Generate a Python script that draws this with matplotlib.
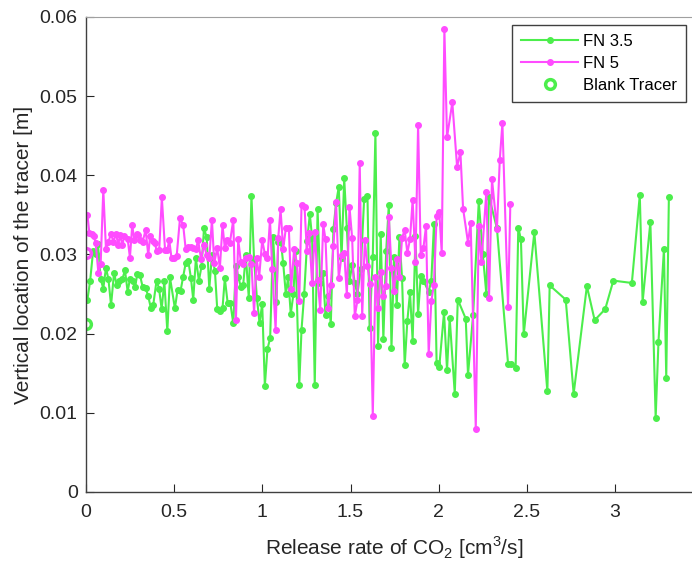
import numpy as np
import matplotlib
matplotlib.use('Agg')
import matplotlib.pyplot as plt

plt.rcParams['font.family'] = ['Liberation Sans', 'DejaVu Sans']
plt.rcParams['mathtext.fontset'] = 'custom'
plt.rcParams['mathtext.rm'] = 'Liberation Sans'

# FN 5: Freisetzungsrate [cm3/s] und vertikale Lage des Tracers [m]
x_fn5 = [0.008, 0.019, 0.032, 0.045, 0.055, 0.070, 0.083, 0.098, 0.113, 0.127,
         0.142, 0.155, 0.170, 0.183, 0.193, 0.206, 0.217, 0.236, 0.249, 0.262,
         0.274, 0.287, 0.296, 0.306, 0.321, 0.338, 0.353, 0.363, 0.378, 0.391,
         0.400, 0.415, 0.430, 0.448, 0.461, 0.472, 0.485, 0.501, 0.514, 0.533,
         0.551, 0.565, 0.580, 0.595, 0.608, 0.623, 0.636, 0.652, 0.669, 0.684,
         0.699, 0.714, 0.727, 0.744, 0.759, 0.774, 0.787, 0.801, 0.816, 0.835,
         0.850, 0.863, 0.878, 0.891, 0.906, 0.923, 0.938, 0.953, 0.967, 0.982,
         0.999, 1.014, 1.029, 1.043, 1.056, 1.075, 1.090, 1.103, 1.118, 1.133,
         1.150, 1.163, 1.180, 1.196, 1.209, 1.222, 1.239, 1.252, 1.265, 1.282,
         1.297, 1.313, 1.328, 1.345, 1.358, 1.373, 1.388, 1.403, 1.418, 1.433,
         1.449, 1.464, 1.479, 1.494, 1.509, 1.524, 1.539, 1.552, 1.566, 1.581,
         1.596, 1.611, 1.626, 1.641, 1.656, 1.671, 1.686, 1.702, 1.717, 1.732,
         1.747, 1.762, 1.777, 1.792, 1.807, 1.822, 1.837, 1.852, 1.868, 1.883,
         1.898, 1.913, 1.928, 1.943, 1.958, 1.973, 1.988, 2.003, 2.017, 2.032,
         2.047, 2.077, 2.104, 2.123, 2.138, 2.166, 2.181, 2.210, 2.227, 2.242,
         2.270, 2.285, 2.302, 2.330, 2.346, 2.361, 2.393, 2.406]
y_fn5 = [0.0350, 0.0327, 0.0326, 0.0323, 0.0314, 0.0277, 0.0288, 0.0382, 0.0307, 0.0316,
         0.0326, 0.0316, 0.0326, 0.0312, 0.0325, 0.0312, 0.0323, 0.0320, 0.0296, 0.0337,
         0.0318, 0.0326, 0.0325, 0.0318, 0.0316, 0.0331, 0.0299, 0.0323, 0.0317, 0.0315,
         0.0304, 0.0306, 0.0372, 0.0306, 0.0306, 0.0318, 0.0295, 0.0295, 0.0298, 0.0346,
         0.0337, 0.0307, 0.0309, 0.0310, 0.0308, 0.0307, 0.0318, 0.0294, 0.0312, 0.0299,
         0.0295, 0.0344, 0.0289, 0.0308, 0.0283, 0.0337, 0.0308, 0.0318, 0.0315, 0.0344,
         0.0217, 0.0319, 0.0290, 0.0288, 0.0295, 0.0297, 0.0288, 0.0226, 0.0295, 0.0272,
         0.0318, 0.0301, 0.0295, 0.0344, 0.0282, 0.0205, 0.0321, 0.0357, 0.0307, 0.0333,
         0.0333, 0.0257, 0.0307, 0.0289, 0.0241, 0.0362, 0.0360, 0.0305, 0.0327, 0.0264,
         0.0328, 0.0268, 0.0230, 0.0338, 0.0319, 0.0233, 0.0261, 0.0311, 0.0366, 0.0270,
         0.0299, 0.0302, 0.0249, 0.0360, 0.0321, 0.0222, 0.0242, 0.0416, 0.0222, 0.0318,
         0.0285, 0.0263, 0.0096, 0.0271, 0.0233, 0.0278, 0.0247, 0.0260, 0.0347, 0.0283,
         0.0254, 0.0294, 0.0271, 0.0321, 0.0331, 0.0302, 0.0319, 0.0369, 0.0290, 0.0464,
         0.0299, 0.0308, 0.0336, 0.0174, 0.0241, 0.0262, 0.0348, 0.0354, 0.0302, 0.0585,
         0.0448, 0.0492, 0.0411, 0.0429, 0.0358, 0.0315, 0.0340, 0.0080, 0.0336, 0.0290,
         0.0379, 0.0245, 0.0395, 0.0332, 0.0419, 0.0466, 0.0234, 0.0364]

# FN 3.5
x_fn35 = [0.008, 0.023, 0.040, 0.055, 0.068, 0.083, 0.098, 0.113, 0.127, 0.142,
          0.159, 0.174, 0.189, 0.206, 0.221, 0.236, 0.249, 0.264, 0.278, 0.291,
          0.306, 0.321, 0.338, 0.353, 0.368, 0.381, 0.400, 0.414, 0.429, 0.444,
          0.461, 0.476, 0.504, 0.519, 0.536, 0.551, 0.565, 0.580, 0.595, 0.608,
          0.623, 0.640, 0.655, 0.669, 0.684, 0.699, 0.714, 0.731, 0.744, 0.759,
          0.774, 0.787, 0.803, 0.818, 0.835, 0.850, 0.863, 0.878, 0.891, 0.906,
          0.923, 0.938, 0.953, 0.969, 0.984, 0.999, 1.014, 1.029, 1.044, 1.061,
          1.080, 1.090, 1.105, 1.118, 1.133, 1.146, 1.161, 1.176, 1.188, 1.209,
          1.222, 1.237, 1.254, 1.269, 1.282, 1.297, 1.313, 1.328, 1.343, 1.358,
          1.373, 1.388, 1.403, 1.418, 1.433, 1.449, 1.464, 1.479, 1.494, 1.509,
          1.524, 1.539, 1.558, 1.577, 1.596, 1.608, 1.626, 1.641, 1.656, 1.671,
          1.686, 1.702, 1.717, 1.732, 1.747, 1.762, 1.777, 1.792, 1.807, 1.822,
          1.837, 1.852, 1.868, 1.883, 1.898, 1.913, 1.943, 1.958, 1.973, 1.988,
          2.003, 2.030, 2.047, 2.062, 2.091, 2.108, 2.153, 2.166, 2.195, 2.227,
          2.250, 2.270, 2.285, 2.330, 2.393, 2.410, 2.436, 2.451, 2.466, 2.482,
          2.542, 2.616, 2.629, 2.720, 2.765, 2.840, 2.884, 2.944, 2.990, 3.095,
          3.140, 3.156, 3.200, 3.230, 3.246, 3.277, 3.290, 3.305]
y_fn35 = [0.0243, 0.0266, 0.0304, 0.0300, 0.0313, 0.0269, 0.0257, 0.0283, 0.0269, 0.0236,
          0.0277, 0.0261, 0.0267, 0.0269, 0.0280, 0.0253, 0.0269, 0.0267, 0.0259, 0.0275,
          0.0274, 0.0259, 0.0258, 0.0247, 0.0232, 0.0236, 0.0267, 0.0257, 0.0231, 0.0266,
          0.0203, 0.0271, 0.0232, 0.0255, 0.0254, 0.0272, 0.0289, 0.0292, 0.0270, 0.0243,
          0.0295, 0.0267, 0.0285, 0.0333, 0.0322, 0.0257, 0.0299, 0.0279, 0.0231, 0.0228,
          0.0232, 0.0270, 0.0239, 0.0239, 0.0213, 0.0286, 0.0272, 0.0259, 0.0261, 0.0299,
          0.0245, 0.0374, 0.0293, 0.0245, 0.0213, 0.0238, 0.0134, 0.0181, 0.0194, 0.0322,
          0.0240, 0.0316, 0.0316, 0.0289, 0.0250, 0.0271, 0.0225, 0.0250, 0.0304, 0.0135,
          0.0205, 0.0250, 0.0317, 0.0351, 0.0321, 0.0135, 0.0357, 0.0264, 0.0277, 0.0223,
          0.0248, 0.0212, 0.0332, 0.0365, 0.0385, 0.0296, 0.0396, 0.0333, 0.0266, 0.0287,
          0.0264, 0.0250, 0.0282, 0.0370, 0.0374, 0.0207, 0.0297, 0.0454, 0.0184, 0.0326,
          0.0193, 0.0304, 0.0363, 0.0182, 0.0297, 0.0236, 0.0322, 0.0270, 0.0160, 0.0216,
          0.0252, 0.0191, 0.0323, 0.0225, 0.0273, 0.0267, 0.0253, 0.0267, 0.0339, 0.0163,
          0.0158, 0.0227, 0.0154, 0.0220, 0.0124, 0.0243, 0.0219, 0.0148, 0.0224, 0.0367,
          0.0300, 0.0250, 0.0373, 0.0333, 0.0162, 0.0162, 0.0157, 0.0334, 0.0319, 0.0199,
          0.0328, 0.0127, 0.0261, 0.0243, 0.0124, 0.0260, 0.0217, 0.0231, 0.0267, 0.0264,
          0.0375, 0.0240, 0.0341, 0.0094, 0.0190, 0.0307, 0.0144, 0.0373]

# blank tracer (ohne CO2)
x_blank = [0.0, 0.0]
y_blank_fn35 = 0.0212
y_blank_fn5 = 0.0302

xticks = [0, 0.5, 1, 1.5, 2, 2.5, 3]
xtick_labels = ['0', '0.5', '1', '1.5', '2', '2.5', '3']
yticks = [0, 0.01, 0.02, 0.03, 0.04, 0.05, 0.06]
ytick_labels = ['0', '0.01', '0.02', '0.03', '0.04', '0.05', '0.06']

gruen = '#4cee4c'
magenta = '#ff4cff'

fig = plt.figure(figsize=(6.92, 5.62), dpi=100)
ax = fig.add_axes([0.1243, 0.1246, 0.892, 0.8452])

ax.plot(x_fn35, y_fn35, '-o', color=gruen, lw=1.5, ms=4, label='FN 3.5')
ax.plot(x_fn5, y_fn5, '-o', color=magenta, lw=1.5, ms=4, label='FN 5')
ax.plot(x_blank[0], y_blank_fn35, 'o', mfc='none', mec=gruen, mew=2.5, ms=7,
        label='Blank Tracer')
ax.plot(x_blank[1], y_blank_fn5, 'o', mfc='none', mec=magenta, mew=2.5, ms=7)

ax.set_xlim(0, 3.5)
ax.set_ylim(0, 0.06)
ax.set_xticks(xticks)
ax.set_xticklabels(xtick_labels)
ax.set_yticks(yticks)
ax.set_yticklabels(ytick_labels)
ax.tick_params(direction='in', length=6, width=0.8, labelsize=14,
               colors='#262626')
ax.tick_params(axis='x', pad=9)
ax.tick_params(axis='y', pad=6)

for s in ['left', 'bottom']:
    ax.spines[s].set_color('#404040')
    ax.spines[s].set_linewidth(1.0)
ax.spines['top'].set_color('#a0a0a0')
ax.spines['right'].set_visible(False)

ax.set_xlabel(r'Release rate of CO$_\mathregular{2}$ [cm$^\mathregular{3}$/s]',
              fontsize=15, color='#262626', labelpad=9)
ax.set_ylabel('Vertical location of the tracer [m]', fontsize=15,
              color='#262626', labelpad=5)

leg = ax.legend(loc='upper right', bbox_to_anchor=(686 / 692, 1 - 25 / 562),
                bbox_transform=fig.transFigure, borderaxespad=0, fontsize=12,
                fancybox=False, edgecolor='#404040', handlelength=3.4,
                borderpad=0.55, labelspacing=0.42, handletextpad=0.3,
                framealpha=1)
leg.get_frame().set_linewidth(1.0)

fig.savefig('out.png', dpi=100)
